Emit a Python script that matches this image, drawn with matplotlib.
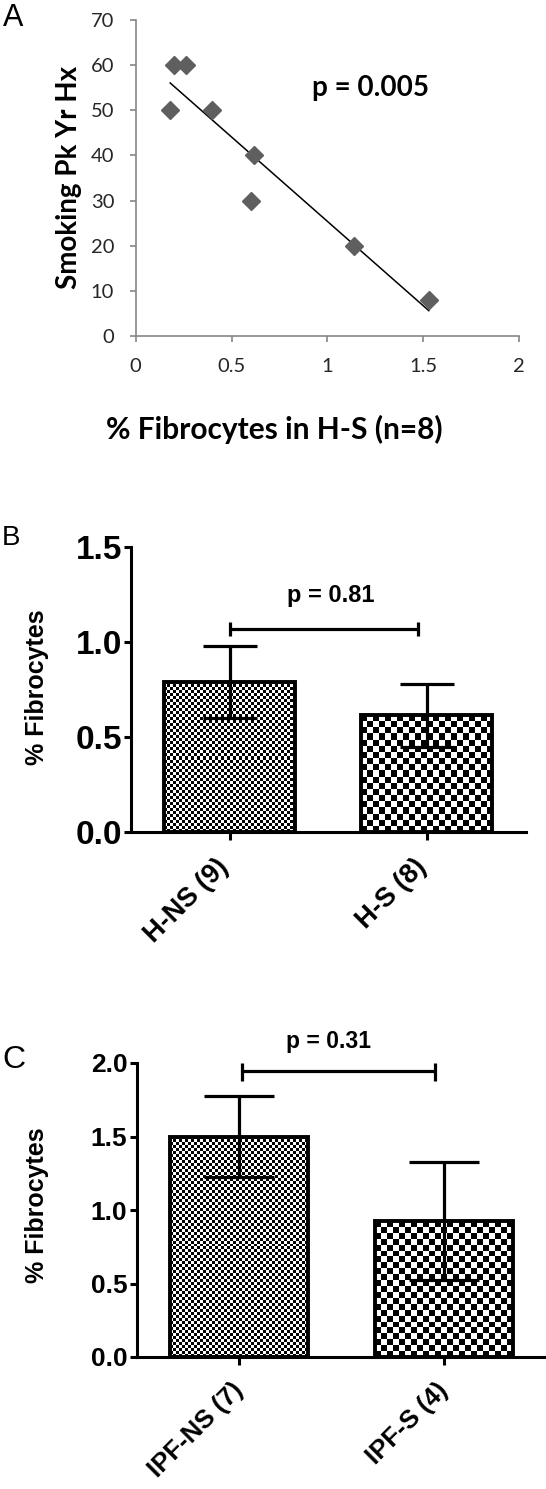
import numpy as np
import matplotlib
matplotlib.use('Agg')
import matplotlib.pyplot as plt
from matplotlib.transforms import ScaledTranslation

plt.rcParams['font.family'] = ['Liberation Sans', 'DejaVu Sans']

# panel A data: smoking history vs fibrocytes in H-S
smoke_x = [0.18, 0.20, 0.26, 0.40, 0.60, 0.62, 1.14, 1.53]
smoke_y = [50, 60, 60, 50, 30, 40, 20, 8]
a_p = 'p = 0.005'

# panel B data
b_groups = ['H-NS (9)', 'H-S (8)']
b_means = [0.79, 0.615]
b_sem = [0.19, 0.165]
b_p = 'p = 0.81'

# panel C data
c_groups = ['IPF-NS (7)', 'IPF-S (4)']
c_means = [1.50, 0.925]
c_sem = [0.276, 0.40]
c_p = 'p = 0.31'

W, H = 546, 1489
fig = plt.figure(figsize=(W / 100, H / 100), dpi=100)


def ax_px(left, top, right, bottom):
    return fig.add_axes([left / W, 1 - bottom / H, (right - left) / W, (bottom - top) / H])


# ---------------- panel A ----------------
lato = ['Lato', 'DejaVu Sans']
axA = ax_px(135.7, 20, 518.9, 336)
grey = '#868686'
axA.plot(smoke_x, smoke_y, linestyle='none', marker='D', ms=9.5, color='#5f5f5f', zorder=3)
k, b0 = np.polyfit(smoke_x, smoke_y, 1)
xs = np.array([min(smoke_x), max(smoke_x)])
axA.plot(xs, k * xs + b0, color='black', lw=1.1, zorder=2)
axA.set_xlim(0, 2)
axA.set_ylim(0, 70)
axA.set_xticks([0, 0.5, 1, 1.5, 2])
axA.set_xticklabels(['0', '0.5', '1', '1.5', '2'])
axA.set_yticks(range(0, 71, 10))
for s in ['top', 'right']:
    axA.spines[s].set_visible(False)
for s in ['left', 'bottom']:
    axA.spines[s].set_color(grey)
    axA.spines[s].set_linewidth(1.2)
axA.tick_params(colors=grey, length=4.5, width=1.2, labelcolor='#262626',
                labelsize=14.5, pad=11)
for t in axA.get_xticklabels() + axA.get_yticklabels():
    t.set_family(lato)
axA.set_xlabel('% Fibrocytes in H-S (n=8)', fontsize=21.5, fontweight='bold', family=lato)
axA.xaxis.set_label_coords(0.361, -0.297)
axA.xaxis.label.set_va('center')
axA.set_ylabel('Smoking Pk Yr Hx', fontsize=20, fontweight='bold', family=lato)
axA.yaxis.set_label_coords(-0.174, 0.503)
axA.yaxis.label.set_va('center')
axA.text(1.223, 55, a_p, fontsize=20, fontweight='bold', ha='center', va='center',
         family=lato)
fig.text(3 / W, 1 - 18 / H, 'A', fontsize=22, va='center', ha='left')


# ---------------- bar panels ----------------
def checker(ax, x0, x1, h, cell_px):
    p0 = ax.transData.transform((x0, 0))
    p1 = ax.transData.transform((x1, h))
    nx = max(1, int(round(abs(p1[0] - p0[0]) / cell_px)))
    ny = max(1, int(round(abs(p1[1] - p0[1]) / cell_px)))
    grid = np.add.outer(np.arange(ny), np.arange(nx)) % 2
    ax.imshow(grid, cmap='gray', extent=(x0, x1, 0, h), interpolation='nearest',
              aspect='auto', zorder=1)


def bar_panel(ax, groups, means, sem, ylim, yticks, width, cells, capsize,
              tick_fs, lab_fs, xlab_fs, p_fs, xlab_shift, ylab_xy, ptext, p_xy,
              br_x, br_y, xlim):
    pos = np.arange(len(groups))
    ax.set_xlim(*xlim)
    ax.set_ylim(*ylim)
    for x, m, c in zip(pos, means, cells):
        checker(ax, x - width / 2, x + width / 2, m, c)
    ax.bar(pos, means, width=width, facecolor='none', edgecolor='black', lw=2.8, zorder=2)
    ax.errorbar(pos, means, yerr=sem, fmt='none', ecolor='black', elinewidth=2.3,
                capsize=capsize, capthick=2.3, zorder=4)
    ax.set_xlim(*xlim)
    ax.set_ylim(*ylim)
    ax.set_yticks(yticks)
    ax.set_yticklabels(['%.1f' % v for v in yticks], fontsize=tick_fs, fontweight='bold')
    ax.set_xticks(pos)
    ax.set_xticklabels(groups, rotation=45, ha='right', va='top', rotation_mode='anchor',
                       fontsize=xlab_fs, fontweight='bold')
    for s in ['top', 'right']:
        ax.spines[s].set_visible(False)
    for s in ['left', 'bottom']:
        ax.spines[s].set_linewidth(2.2)
    ax.tick_params(axis='y', length=5, width=2.2, pad=1.5)
    ax.tick_params(axis='x', length=5.5, width=2.2, pad=10)
    # nudge the rotated group labels left (after tick_params, which resets transforms)
    shift = ScaledTranslation(xlab_shift / 72, 0, fig.dpi_scale_trans)
    for t in ax.get_xticklabels():
        t.set_transform(t.get_transform() + shift)
    ax.set_ylabel('% Fibrocytes', fontsize=lab_fs, fontweight='bold')
    ax.yaxis.set_label_coords(*ylab_xy)
    ax.yaxis.label.set_va('center')
    # significance bracket
    x0, x1 = br_x
    yb, ylo, yhi = br_y
    kw = dict(color='black', lw=2.3, clip_on=False, zorder=5, solid_capstyle='butt')
    ax.plot([x0, x1], [yb, yb], **kw)
    ax.plot([x0, x0], [ylo, yhi], **kw)
    ax.plot([x1, x1], [ylo, yhi], **kw)
    ax.text(p_xy[0], p_xy[1], ptext, fontsize=p_fs, fontweight='bold', ha='center',
            va='center', clip_on=False)


axB = ax_px(131, 547, 525.5, 832)
bar_panel(axB, b_groups, b_means, b_sem, (0, 1.5), [0, 0.5, 1.0, 1.5], 0.665, [3, 6],
          19.4, 24, 18, 19.5, 17, -10, (-0.238, 0.509), b_p, (0.515, 1.247),
          (0.0, 0.954), (1.068, 1.03, 1.105), (-0.5, 1.5))
fig.text(2 / W, 1 - 538 / H, 'B', fontsize=20, va='center', ha='left')

axC = ax_px(136.5, 1063, 546, 1357)
bar_panel(axC, c_groups, c_means, c_sem, (0, 2.0), [0, 0.5, 1.0, 1.5, 2.0], 0.673, [3, 6],
          25, 19, 18, 18.5, 16.5, -6, (-0.242, 0.517), c_p, (0.436, 2.143),
          (0.015, 0.956), (1.946, 1.878, 2.0), (-0.5, 1.498))
fig.text(2 / W, 1 - 1060 / H, 'C', fontsize=23, va='center', ha='left')

fig.savefig('out.png', dpi=100)
